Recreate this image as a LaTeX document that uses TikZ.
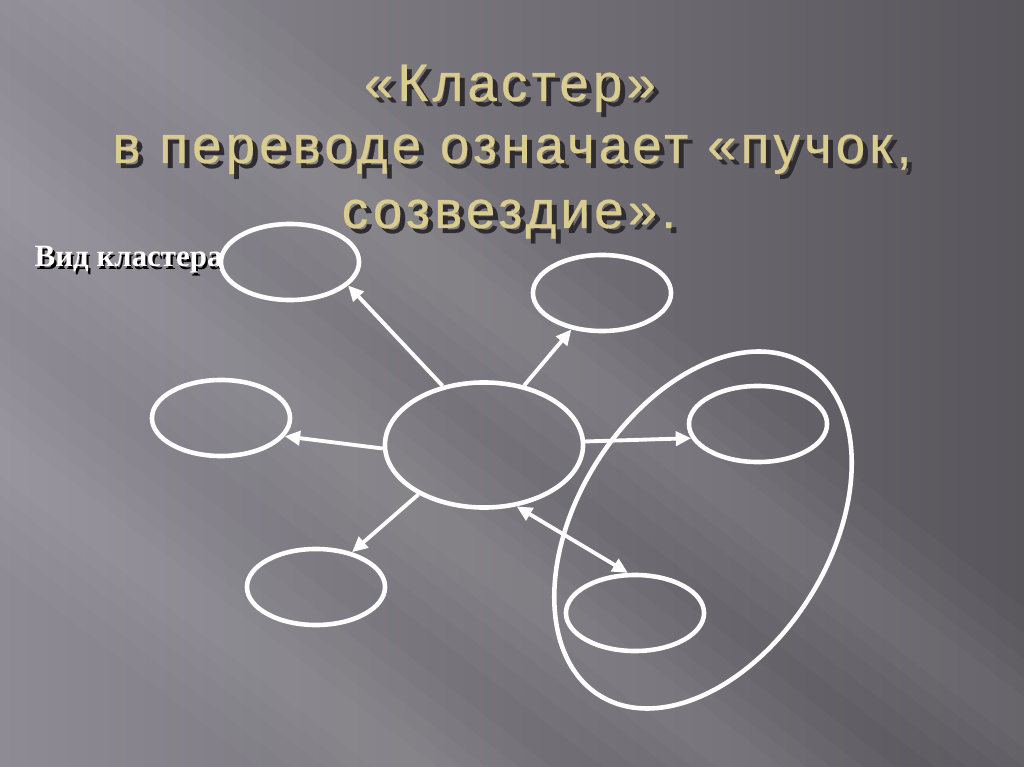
\documentclass[tikz,border=0pt]{standalone}
\usepackage{fontspec}
\setmainfont{Liberation Serif}
\newfontfamily\titlefont{Liberation Sans}[LetterSpace=8,FakeBold=0.5]
\usetikzlibrary{shapes.geometric,arrows.meta}

\definecolor{slidedark}{HTML}{58565B}
\definecolor{slidelight}{HTML}{8E8B94}
\definecolor{titlegold}{HTML}{D9CC8E}
\definecolor{titleshade}{HTML}{2E2C30}

\newcommand{\shadowtext}[3]{\makebox[0pt][l]{\hspace{#1}\raisebox{-#1}{\textcolor{#2}{#3}}}#3}

\tikzset{
	>={Triangle[length=4.4pt,width=4pt]},
	bubble/.style={draw=white, line width=1.3pt, ellipse, inner sep=0pt,
		minimum width=1.38cm, minimum height=0.76cm},
	hub/.style={bubble, minimum width=1.98cm, minimum height=1.25cm},
	spoke/.style={color=white, line width=1.1pt},
	heading/.style={text=titlegold, anchor=base, inner sep=0pt,
		font=\titlefont\fontsize{15}{18}\selectfont},
}

\begin{document}
\begin{tikzpicture}[x=0.01cm,y=-0.01cm]
	\shade[left color=slidelight, right color=slidedark] (0,0) rectangle (1024,767);
	\useasboundingbox (0,0) rectangle (1024,767);
	\begin{scope}
		\clip (0,0) rectangle (1024,767);
		\foreach \cx/\cy in {560/360, 190/330, 140/560}
			\foreach \w in {90,70,50,35,20}
				\fill[white, opacity=0.025, rotate around={-38:(\cx,\cy)}]
					(\cx-1500,\cy-\w) rectangle (\cx+1500,\cy+\w);
	\end{scope}

	\node[heading] (line1) at (510,101) {\shadowtext{1.4pt}{titleshade}{«Кластер»}};
	\node[heading] (line2) at (512,163) {\shadowtext{1.4pt}{titleshade}{в переводе означает «пучок,}};
	\node[heading] (line3) at (509,228) {\shadowtext{1.4pt}{titleshade}{созвездие».}};
	\node[anchor=base west, text=white, inner sep=0pt,
		font=\bfseries\fontsize{8.8}{10}\selectfont] (kind) at (34,267)
		{\shadowtext{0.6pt}{black}{Вид кластера}};

	\node[bubble] (tl) at (290,262) {};
	\node[bubble] (tr) at (602,293) {};
	\node[bubble] (lf) at (221,418) {};
	\node[hub] (hub) at (484,445) {};
	\node[bubble] (rt) at (758,424) {};
	\node[bubble] (bl) at (316,587) {};
	\node[bubble] (br) at (635,613) {};
	\node[draw=white, line width=1.3pt, ellipse, inner sep=0pt, rotate=58,
		minimum width=3.9cm, minimum height=2.52cm] (group) at (703,530) {};

	\path[spoke,->]
	(hub.125)	edge	(tl.-22)
	(hub.56)	edge	(tr.230)
	(hub.182)	edge	(lf.-16)
	(hub.2)		edge	(rt.192)
	(hub.217)	edge	(bl.44)
	(hub.298)	edge[<->]	(br.100);
\end{tikzpicture}
\end{document}
